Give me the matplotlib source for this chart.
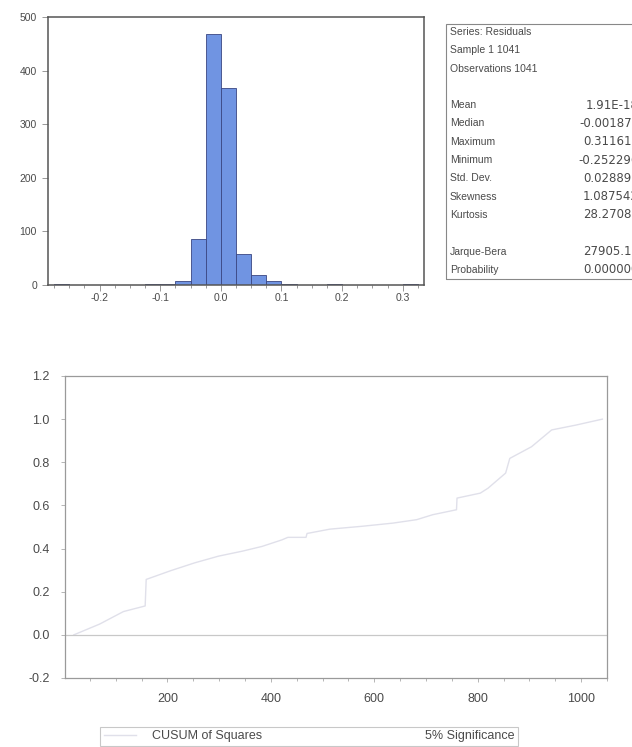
import matplotlib

matplotlib.use("Agg")
import matplotlib.pyplot as plt
from matplotlib.lines import Line2D
from matplotlib.ticker import MultipleLocator
from matplotlib.patches import Rectangle

plt.rcParams["font.family"] = ["Liberation Sans", "DejaVu Sans"]

TEXT = "#4a4a4a"

# --- histogram of residuals -------------------------------------------------
bin_left = [-0.275, -0.25, -0.225, -0.2, -0.175, -0.15, -0.125, -0.1,
            -0.075, -0.05, -0.025, 0.0, 0.025, 0.05, 0.075, 0.1,
            0.125, 0.15, 0.175, 0.2, 0.225, 0.25, 0.275, 0.3]
bin_count = [1, 0, 0, 0, 0, 0, 1, 2,
             7, 85, 468, 368, 58, 18, 7, 2,
             0, 0, 1, 0, 0, 0, 0, 1]
bin_width = 0.025

stat_names = ["Mean", "Median", "Maximum", "Minimum", "Std. Dev.",
              "Skewness", "Kurtosis", "", "Jarque-Bera", "Probability"]
stat_values = ["1.91E-18", "-0.001870", "0.311612", "-0.252296", "0.028890",
               "1.087542", "28.27082", "", "27905.11", "0.000000"]
header_lines = ["Series: Residuals", "Sample 1 1041", "Observations 1041", ""]

# --- CUSUM of squares ---------------------------------------------------------
cusum_t = [19, 69, 115, 157, 159, 207, 253, 299, 345, 383, 421, 433, 468, 470,
           514, 575, 636, 682, 713, 759, 760, 805, 820, 854, 862, 904, 943,
           989, 1041]
cusum_v = [0.0, 0.05, 0.108, 0.134, 0.257, 0.298, 0.334, 0.365, 0.388, 0.41,
           0.44, 0.452, 0.452, 0.47, 0.49, 0.503, 0.518, 0.534, 0.557, 0.58,
           0.634, 0.657, 0.68, 0.75, 0.818, 0.872, 0.95, 0.972, 1.0]

W, H = 632, 747
fig = plt.figure(figsize=(W / 100, H / 100), dpi=100)


def box(l, t, r, b):
    return [l / W, 1 - b / H, (r - l) / W, (b - t) / H]


ax1 = fig.add_axes(box(48, 17, 424, 285))
ax1.bar(bin_left, bin_count, width=bin_width, align="edge",
        color="#7094e2", edgecolor="#3a4682", linewidth=0.6)
ax1.set_xlim(-0.285, 0.335)
ax1.set_ylim(0, 500)
ax1.xaxis.set_major_locator(MultipleLocator(0.1))
ax1.xaxis.set_minor_locator(MultipleLocator(0.025))
ax1.yaxis.set_major_locator(MultipleLocator(100))
ax1.set_xticklabels([])
for v in [-0.2, -0.1, 0.0, 0.1, 0.2, 0.3]:
    ax1.text(v, -0.03, f"{v:.1f}", transform=ax1.get_xaxis_transform(),
             ha="center", va="top", fontsize=7.5, color=TEXT)
ax1.tick_params(axis="both", which="both", direction="out", color="#888888",
                labelsize=7.5, labelcolor=TEXT, width=0.6)
ax1.tick_params(axis="both", which="major", length=4, pad=4)
ax1.tick_params(axis="x", which="minor", length=2)
for s in ax1.spines.values():
    s.set_color("#555555")
    s.set_linewidth(1.1)

# statistics panel to the right of the histogram (cut by the page edge)
bx_l, bx_t, bx_b = 446, 24, 279
fig.patches.append(Rectangle((bx_l / W, 1 - bx_b / H), 1.0, (bx_b - bx_t) / H,
                             transform=fig.transFigure, fill=False,
                             edgecolor="#888888", linewidth=0.8))
rows = header_lines + stat_names
vals = [""] * len(header_lines) + stat_values
y0, dy = 32, 18.3
for i, (name, val) in enumerate(zip(rows, vals)):
    y = 1 - (y0 + i * dy) / H
    fig.text(450 / W, y, name, ha="left", va="center", fontsize=7.5, color=TEXT)
    if val:
        fig.text(639 / W, y, val, ha="right", va="center", fontsize=8.5,
                 family="DejaVu Sans", color=TEXT)

# --- lower panel ------------------------------------------------------------
ax2 = fig.add_axes(box(65, 376, 607, 678))
ax2.plot(cusum_t, cusum_v, color="#e0e0ea", linewidth=1.0)
ax2.axhline(0.0, color="#c8c8c8", linewidth=0.9)
ax2.set_xlim(2, 1050)
ax2.set_ylim(-0.2, 1.2)
ax2.xaxis.set_major_locator(MultipleLocator(200))
ax2.xaxis.set_minor_locator(MultipleLocator(50))
ax2.yaxis.set_major_locator(MultipleLocator(0.2))
ax2.yaxis.set_major_formatter(plt.FormatStrFormatter("%.1f"))
ax2.tick_params(axis="both", which="both", direction="out", color="#aaaaaa",
                labelsize=9, labelcolor=TEXT, width=0.6)
ax2.tick_params(axis="both", which="major", length=3, pad=8)
ax2.tick_params(axis="x", which="minor", length=2)
for s in ax2.spines.values():
    s.set_color("#9a9a9a")
    s.set_linewidth(0.9)

handles = [Line2D([], [], color="#e0e0ea", linewidth=1.0),
           Line2D([], [], color="white", linewidth=1.0)]
leg = fig.legend(handles, ["CUSUM of Squares", "5% Significance"], ncol=2,
                 loc="lower left",
                 bbox_to_anchor=(100 / W, 1 - 746 / H, 418 / W, 24 / H),
                 mode="expand", fontsize=9, frameon=True, fancybox=False,
                 borderaxespad=0, handlelength=2.6, handletextpad=1.3,
                 borderpad=0.3)
leg.get_frame().set_edgecolor("#bbbbbb")
leg.get_frame().set_linewidth(0.8)
for t in leg.get_texts():
    t.set_color(TEXT)

fig.savefig("out.png", dpi=100)
